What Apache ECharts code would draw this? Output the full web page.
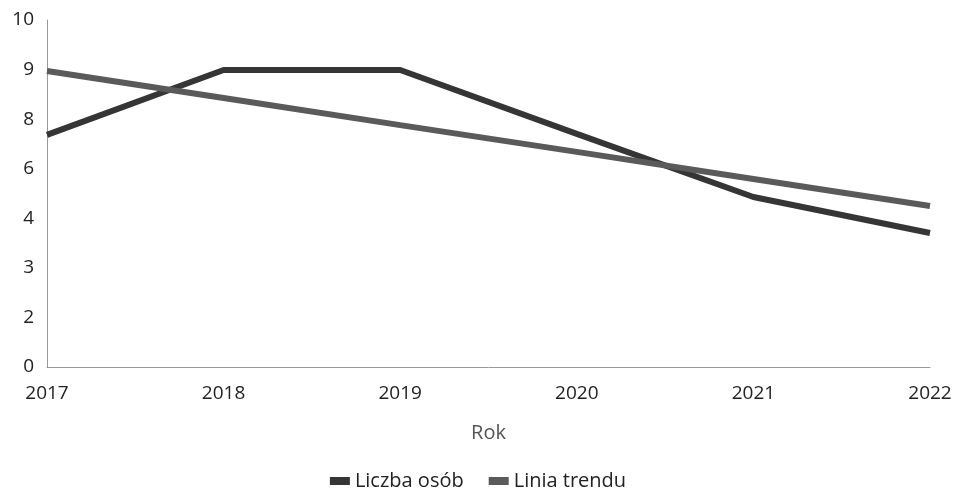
<!DOCTYPE html>
<html><head><meta charset="utf-8">
<script src="https://cdn.jsdelivr.net/npm/echarts@6/dist/echarts.min.js"></script>
<style>html,body{margin:0;padding:0;background:#fff}#c{width:956px;height:493px}</style>
</head><body><div id="c"></div>
<script>
const years = ['2017','2018','2019','2020','2021','2022'];
const liczbaOsob = [6.69, 8.56, 8.56, 6.72, 4.9, 3.86];
const liniaTrendu = [8.53, 7.75, 6.97, 6.2, 5.42, 4.64];
const yTickLabels = ['0','2','3','4','6','8','9','10'];

const step = 10 / 7;
const chart = echarts.init(document.getElementById('c'));
chart.setOption({
  animation: false,
  grid: {left: 47, right: 26, top: 20, bottom: 126},
  legend: {
    top: 466, left: 'center', itemWidth: 20, itemHeight: 8, itemGap: 25,
    icon: 'rect',
    textStyle: {fontFamily: 'Open Sans', fontSize: 20, color: '#222'},
    data: ['Liczba osób', 'Linia trendu']
  },
  xAxis: {
    type: 'category', data: years, boundaryGap: false,
    name: 'Rok', nameLocation: 'middle', nameGap: 56,
    nameTextStyle: {fontFamily: 'Open Sans', fontSize: 20, color: '#555'},
    axisLine: {lineStyle: {color: '#999', width: 1}},
    axisTick: {show: false},
    axisLabel: {fontFamily: 'Open Sans', fontSize: 19, color: '#222', margin: 17}
  },
  yAxis: {
    type: 'value', min: 0, max: 10, interval: step,
    axisLine: {show: true, lineStyle: {color: '#999', width: 1}},
    axisTick: {show: false},
    splitLine: {show: false},
    axisLabel: {
      fontFamily: 'Open Sans', fontSize: 19, color: '#222', margin: 13,
      formatter: v => yTickLabels[Math.round(v / step)] ?? ''
    }
  },
  series: [
    {name: 'Liczba osób', type: 'line', data: liczbaOsob, symbol: 'none',
     lineStyle: {width: 6, color: '#353535'}, itemStyle: {color: '#353535'}},
    {name: 'Linia trendu', type: 'line', data: liniaTrendu, symbol: 'none',
     lineStyle: {width: 6, color: '#5a5a5a'}, itemStyle: {color: '#5a5a5a'}, z: 3}
  ]
});
</script></body></html>
